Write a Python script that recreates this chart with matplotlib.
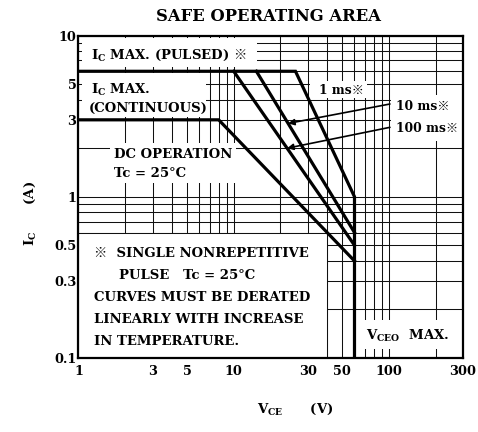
import numpy as np
import matplotlib
matplotlib.use('Agg')
import matplotlib.pyplot as plt
from matplotlib.ticker import FixedLocator, FixedFormatter, LogLocator, NullFormatter
from matplotlib.patches import Rectangle

plt.rcParams['font.family'] = ['DejaVu Serif', 'Noto Sans CJK JP']
plt.rcParams['font.weight'] = 'bold'
plt.rcParams['mathtext.fontset'] = 'dejavuserif'

# ---- data ----
x_ticks = [1, 3, 5, 10, 30, 50, 100, 300]
x_tick_labels = ['1', '3', '5', '10', '30', '50', '100', '300']
y_ticks = [0.1, 0.3, 0.5, 1, 3, 5, 10]
y_tick_labels = ['0.1', '0.3', '0.5', '1', '3', '5', '10']

pulsed_v = [1, 25, 60, 60]      # Ic max pulsed, 1 ms line, VCEO max
pulsed_i = [6, 6, 1, 0.1]
ms10_v = [14, 60]
ms10_i = [6, 0.6]
ms100_v = [10, 60]
ms100_i = [6, 0.5]
dc_v = [1, 8, 60]
dc_i = [3, 3, 0.4]

arrow_i = [2.85, 2.0]            # currents where the 10 ms / 100 ms arrows touch

# ---- figure ----
fig = plt.figure(figsize=(4.78, 4.32), dpi=100)
ax = fig.add_axes([0.1642, 0.1713, 0.8044, 0.7465])
ax.set_xscale('log')
ax.set_yscale('log')
ax.set_xlim(1, 300)
ax.set_ylim(0.1, 10)

ax.xaxis.set_major_locator(FixedLocator(x_ticks))
ax.xaxis.set_major_formatter(FixedFormatter(x_tick_labels))
ax.yaxis.set_major_locator(FixedLocator(y_ticks))
ax.yaxis.set_major_formatter(FixedFormatter(y_tick_labels))
ax.xaxis.set_minor_locator(LogLocator(base=10, subs=np.arange(2, 10)))
ax.yaxis.set_minor_locator(LogLocator(base=10, subs=np.arange(2, 10)))
ax.xaxis.set_minor_formatter(NullFormatter())
ax.yaxis.set_minor_formatter(NullFormatter())
ax.tick_params(which='both', length=0, labelsize=9.3)
ax.tick_params(axis='x', pad=5)
ax.tick_params(axis='y', pad=1.5)
ax.set_axisbelow(True)
ax.grid(which='both', color='#111111', lw=0.75)
for s in ax.spines.values():
    s.set_linewidth(1.6)
    s.set_zorder(6)

# white backgrounds for labels (axes fraction)
boxes = [
    (0.0091, 0.9023, 0.455, 0.090),   # pulsed
    (0.0091, 0.7473, 0.3225, 0.1364),  # continuous
    (0.0819, 0.5426, 0.3277, 0.1241),  # DC operation
    (0.602, 0.806, 0.148, 0.053),      # 1 ms
    (0.8127, 0.673, 0.1873, 0.1425),   # 10/100 ms
    (0.7243, 0.0279, 0.2737, 0.0899),  # VCEO max
]
for (bx, by, bw, bh) in boxes:
    ax.add_patch(Rectangle((bx, by), bw, bh, transform=ax.transAxes,
                           facecolor='white', edgecolor='none', zorder=1))
# note box (data coords, bounded by grid lines)
ax.add_patch(Rectangle((1, 0.1), 39, 0.5, facecolor='white',
                       edgecolor='#111111', lw=0.75, zorder=1))

lw = 2.3
ax.plot(pulsed_v, pulsed_i, color='black', lw=lw, zorder=3, solid_joinstyle='miter')
ax.plot(ms10_v, ms10_i, color='black', lw=lw, zorder=3)
ax.plot(ms100_v, ms100_i, color='black', lw=lw, zorder=3)
ax.plot(dc_v, dc_i, color='black', lw=lw, zorder=3, solid_joinstyle='miter')


def v_at(i, vs, is_):
    return 10 ** np.interp(np.log10(i), np.log10(is_[::-1]), np.log10(vs[::-1]))


def txt(x, y, s, **kw):
    kw.setdefault('fontsize', 9.5)
    ax.text(x, y, s, transform=ax.transAxes, ha='left', va='baseline', zorder=5, **kw)


txt(0.0317, 0.928, r'I$_{\mathbf{C}}$ MAX. (PULSED)')
txt(0.402, 0.928, '※')
txt(0.0317, 0.8195, r'I$_{\mathbf{C}}$ MAX.')
txt(0.0256, 0.764, '(CONTINUOUS)')
txt(0.0932, 0.619, 'DC OPERATION')
txt(0.0932, 0.562, 'Tc = 25°C')
txt(0.626, 0.8195, '1 ms※', fontsize=8.8)
txt(0.825, 0.770, '10 ms※', fontsize=8.8)
txt(0.825, 0.700, '100 ms※', fontsize=8.8)
txt(0.0403, 0.314, '※  SINGLE NONREPETITIVE')
txt(0.106, 0.244, 'PULSE   Tc = 25°C')
txt(0.0403, 0.177, 'CURVES MUST BE DERATED')
txt(0.0403, 0.1076, 'LINEARLY WITH INCREASE')
txt(0.0403, 0.0403, 'IN TEMPERATURE.')
txt(0.748, 0.0558, r'V$_{\mathbf{CEO}}$  MAX.')

ax.annotate('', xy=(v_at(arrow_i[0], ms10_v, ms10_i), arrow_i[0]), xycoords='data',
            xytext=(0.810, 0.7876), textcoords='axes fraction',
            arrowprops=dict(arrowstyle='-|>', color='black', lw=1.2,
                            mutation_scale=9, shrinkA=0, shrinkB=0), zorder=4)
ax.annotate('', xy=(v_at(arrow_i[1], ms100_v, ms100_i), arrow_i[1]), xycoords='data',
            xytext=(0.810, 0.7153), textcoords='axes fraction',
            arrowprops=dict(arrowstyle='-|>', color='black', lw=1.2,
                            mutation_scale=9, shrinkA=0, shrinkB=0), zorder=4)

fig.text(0.5613, 0.952, 'SAFE OPERATING AREA', ha='center', va='baseline', fontsize=11.8)
fig.text(0.537, 0.044, r'V$_{\mathbf{CE}}$      (V)', ha='left', va='baseline', fontsize=9.5)
fig.text(0.063, 0.507, r'I$_{\mathbf{C}}$      (A)', rotation=90, ha='center', va='center', fontsize=9.5)

fig.savefig('out.png', dpi=100)
